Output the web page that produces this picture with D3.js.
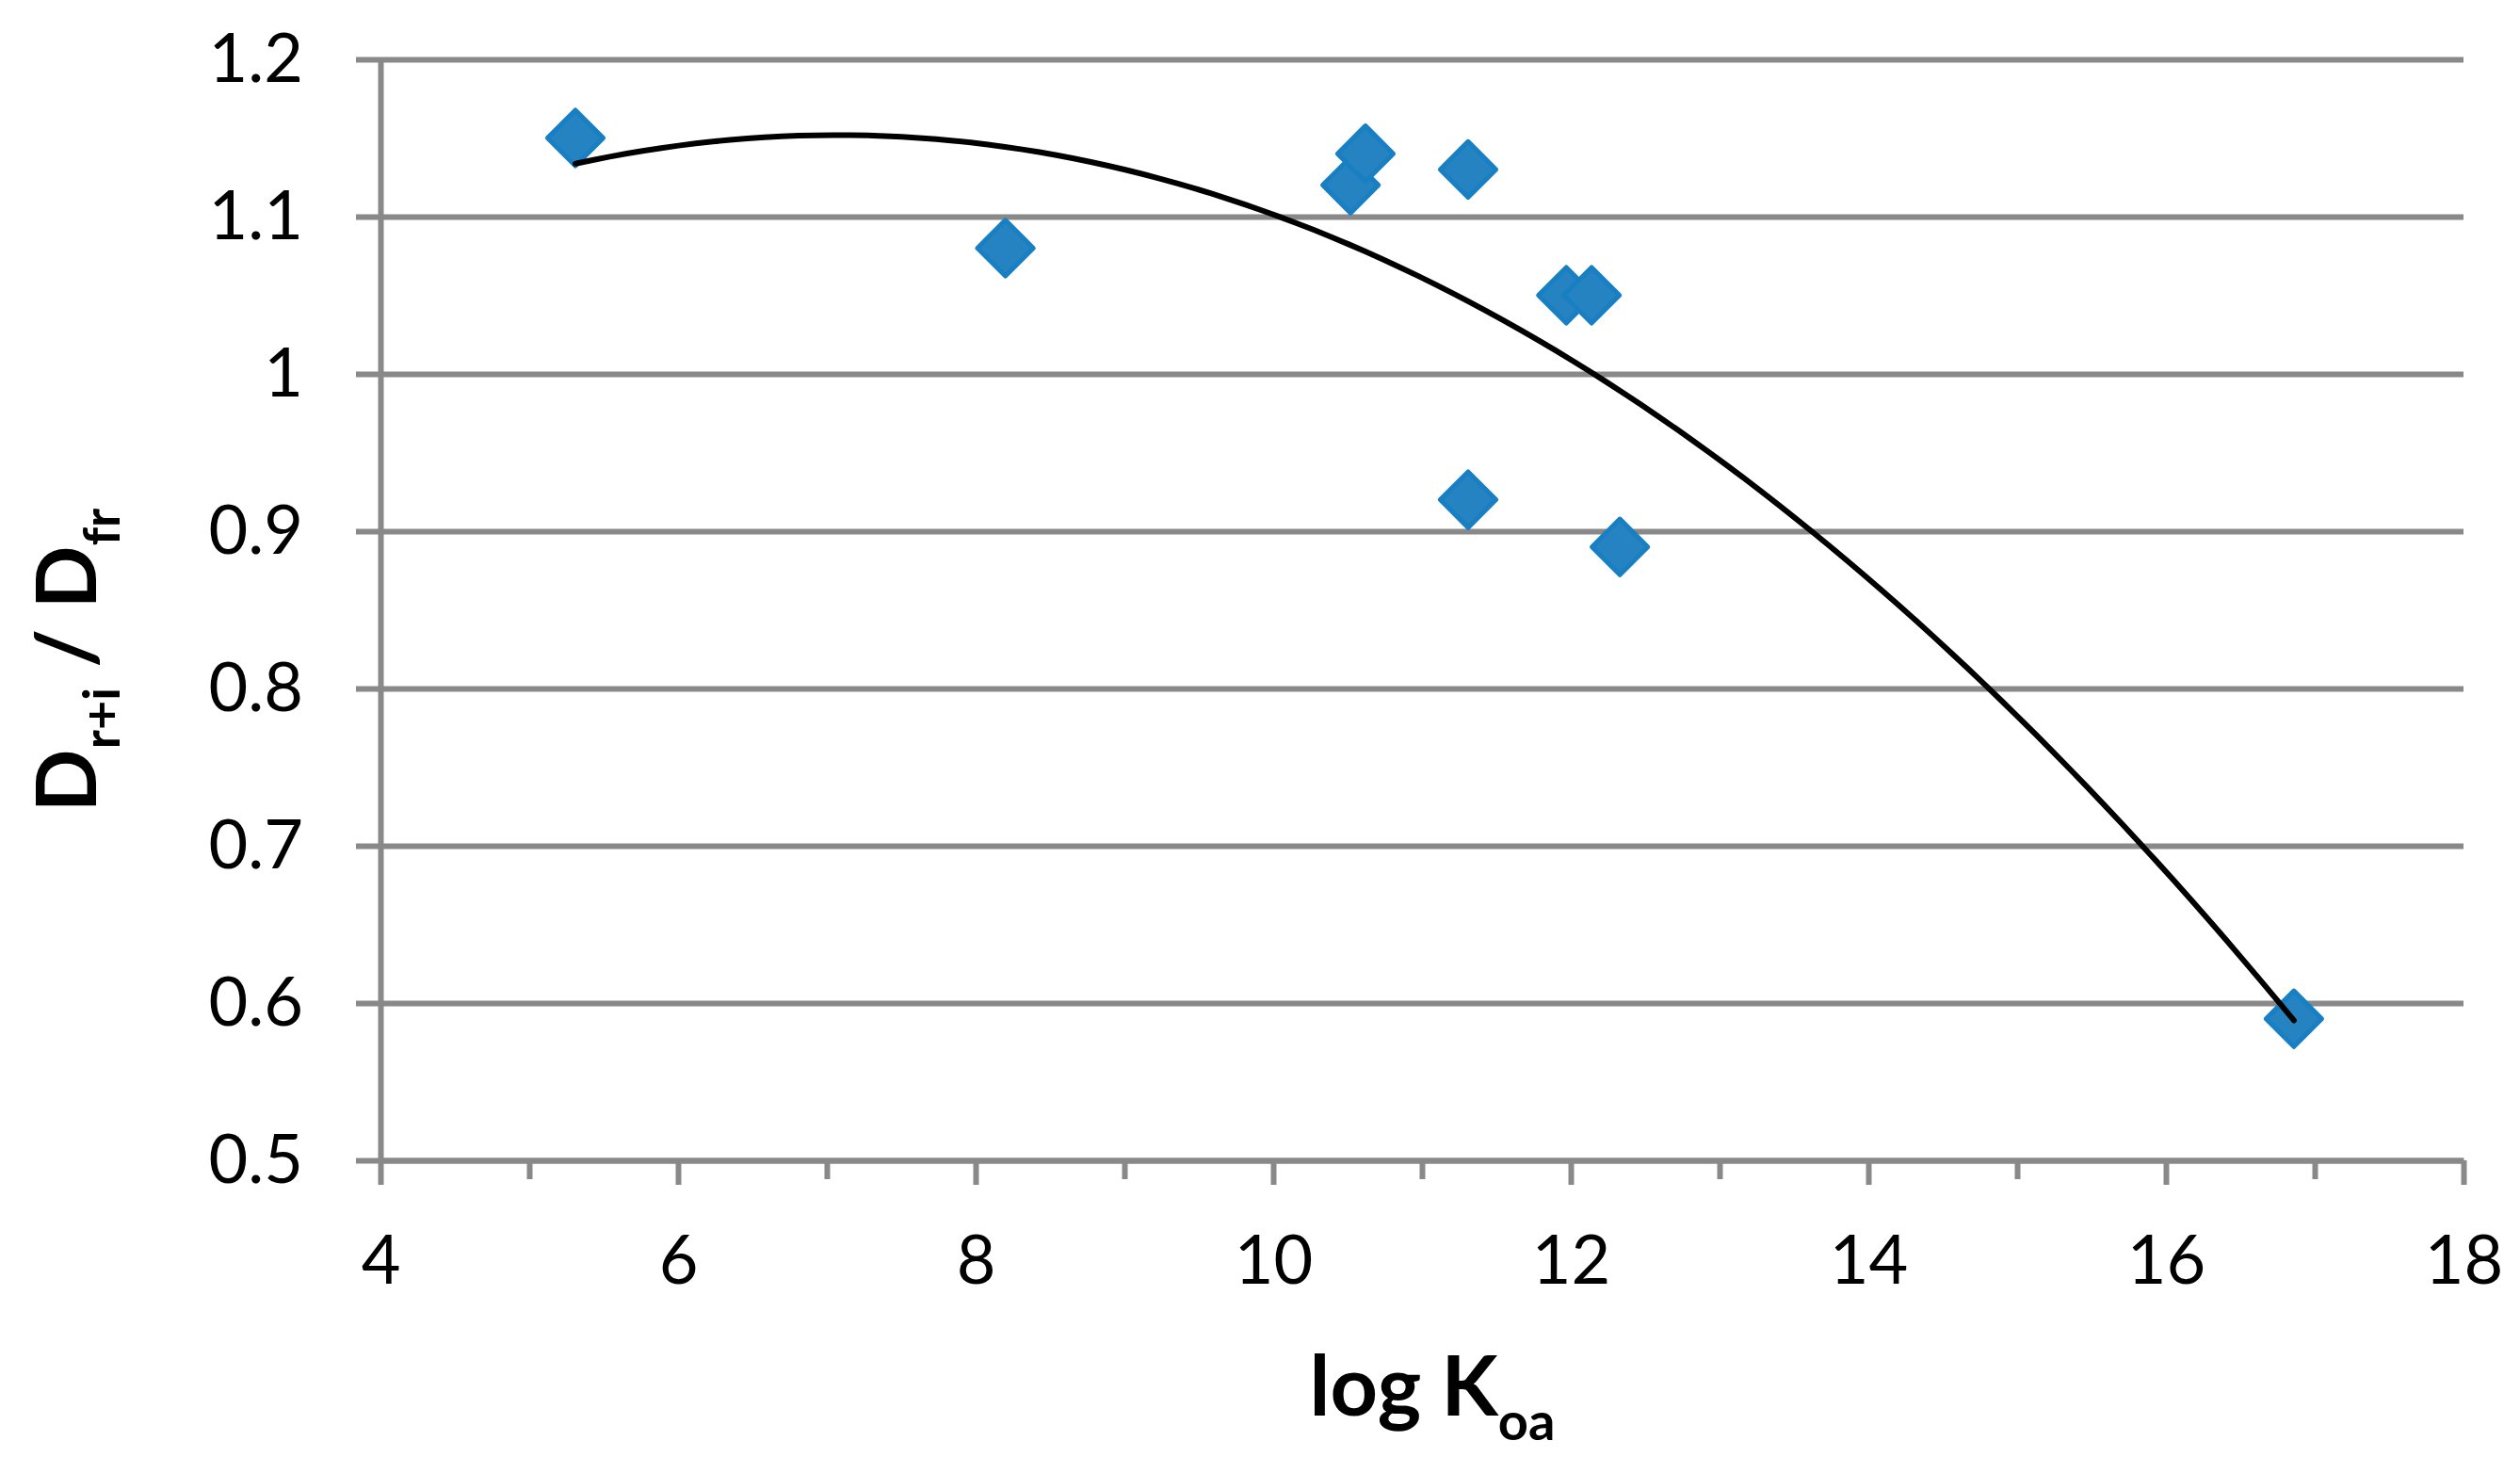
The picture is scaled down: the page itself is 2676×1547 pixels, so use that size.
<!DOCTYPE html>
<html>
<head>
<meta charset="utf-8">
<script src="https://cdn.jsdelivr.net/npm/d3@7"></script>
<style>
    body { margin: 0; background: #fff; }
    text { font-family: Lato, "Open Sans", sans-serif; fill: #000; }
    .axis-title { font-weight: bold; }
</style>
</head>
<body>
<div id="chart-div"></div>
<script>
// values
const logKoa = [5.31, 8.2, 10.52, 10.62, 11.31, 11.31, 11.97, 12.14, 12.33, 16.86];
const ratio = [1.15, 1.08, 1.12, 1.14, 1.13, 0.92, 1.05, 1.05, 0.89, 0.59];
const xTicks = [4, 6, 8, 10, 12, 14, 16, 18];
const xMinorTicks = [5, 7, 9, 11, 13, 15, 17];
const yTicks = [0.5, 0.6, 0.7, 0.8, 0.9, 1.0, 1.1, 1.2];
const yTickLabels = ["0.5", "0.6", "0.7", "0.8", "0.9", "1", "1.1", "1.2"];

const WIDTH = 2676;
const HEIGHT = 1547;
const MARGIN = { left: 404, top: 63, right: 60, bottom: 315 };
const CHART_WIDTH = WIDTH - MARGIN.left - MARGIN.right;
const CHART_HEIGHT = HEIGHT - MARGIN.top - MARGIN.bottom;
const GREY = "#898989";

let points = logKoa.map((x, i) => ({ x: x, y: ratio[i] }));

let svg = d3.select("#chart-div")
    .append("svg")
    .attr("width", WIDTH)
    .attr("height", HEIGHT)
    .append("g")
    .attr("transform", "translate(" + MARGIN.left + "," + MARGIN.top + ")");

let xScale = d3.scaleLinear().domain([4, 18]).range([0, CHART_WIDTH]);
let yScale = d3.scaleLinear().domain([0.5, 1.2]).range([CHART_HEIGHT, 0]);

// horizontal gridlines
svg.append("g")
    .classed("grid", true)
    .call(d3.axisLeft(yScale).tickValues(yTicks).tickSize(-CHART_WIDTH).tickFormat(""))
    .call(g => g.select(".domain").remove())
    .selectAll("line")
    .attr("stroke", GREY)
    .attr("stroke-width", 6);

// y axis
svg.append("g")
    .classed("y-axis", true)
    .call(d3.axisLeft(yScale)
        .tickValues(yTicks)
        .tickSize(26)
        .tickSizeOuter(0)
        .tickPadding(56)
        .tickFormat((d, i) => yTickLabels[i]))
    .call(g => g.select(".domain").attr("stroke", GREY).attr("stroke-width", 6))
    .call(g => g.selectAll("line").attr("stroke", GREY).attr("stroke-width", 6))
    .call(g => g.selectAll("text").style("font-size", "72px").style("font-family", "Lato, sans-serif"));

// x axis, minor ticks first
svg.append("g")
    .attr("transform", "translate(0," + CHART_HEIGHT + ")")
    .call(d3.axisBottom(xScale).tickValues(xMinorTicks).tickSize(20).tickSizeOuter(0).tickFormat(""))
    .call(g => g.select(".domain").remove())
    .selectAll("line")
    .attr("stroke", GREY)
    .attr("stroke-width", 6);

svg.append("g")
    .classed("x-axis", true)
    .attr("transform", "translate(0," + CHART_HEIGHT + ")")
    .call(d3.axisBottom(xScale).tickValues(xTicks).tickSize(26).tickSizeOuter(0).tickPadding(54))
    .call(g => g.select(".domain").attr("stroke", GREY).attr("stroke-width", 6))
    .call(g => g.selectAll("line").attr("stroke", GREY).attr("stroke-width", 6))
    .call(g => g.selectAll("text").style("font-size", "72px").style("font-family", "Lato, sans-serif"));

// diamond markers
svg.append("g")
    .selectAll("path")
    .data(points)
    .enter()
    .append("path")
    .attr("transform", d => "translate(" + xScale(d.x) + "," + yScale(d.y) + ") rotate(45)")
    .attr("d", d3.symbol().type(d3.symbolSquare).size(1750))
    .attr("fill", "#2683c1")
    .attr("stroke", "#187fc3")
    .attr("stroke-width", 5)
    .attr("stroke-linejoin", "round");

// polynomial (order 2) trendline, least squares like Excel does it
function quadFit(xs, ys) {
    let s = [0, 0, 0, 0, 0], t = [0, 0, 0];
    xs.forEach((x, i) => {
        for (let k = 0; k < 5; k++) s[k] += Math.pow(x, k);
        for (let k = 0; k < 3; k++) t[k] += ys[i] * Math.pow(x, k);
    });
    let m = [[s[0], s[1], s[2], t[0]], [s[1], s[2], s[3], t[1]], [s[2], s[3], s[4], t[2]]];
    for (let c = 0; c < 3; c++) {
        for (let r = c + 1; r < 3; r++) {
            let f = m[r][c] / m[c][c];
            for (let k = c; k < 4; k++) m[r][k] -= f * m[c][k];
        }
    }
    let coef = [0, 0, 0];
    for (let r = 2; r >= 0; r--) {
        let v = m[r][3];
        for (let k = r + 1; k < 3; k++) v -= m[r][k] * coef[k];
        coef[r] = v / m[r][r];
    }
    return coef;
}

let coef = quadFit(logKoa, ratio);
let xMin = d3.min(logKoa), xMax = d3.max(logKoa);
let trend = d3.range(0, 101).map(i => {
    let x = xMin + (xMax - xMin) * i / 100;
    return { x: x, y: coef[0] + coef[1] * x + coef[2] * x * x };
});

// trendline sits on top of the markers
svg.append("path")
    .datum(trend)
    .attr("fill", "none")
    .attr("stroke", "#000")
    .attr("stroke-width", 6)
    .attr("stroke-linecap", "round")
    .attr("d", d3.line().x(d => xScale(d.x)).y(d => yScale(d.y)).curve(d3.curveMonotoneX));

// axis titles
svg.append("text")
    .classed("axis-title", true)
    .attr("x", 1521 - MARGIN.left)
    .attr("y", 1503 - MARGIN.top)
    .attr("text-anchor", "middle")
    .style("font-size", "88px")
    .call(t => {
        t.append("tspan").text("log K");
        t.append("tspan").attr("dy", 26).style("font-size", "56px").text("oa");
    });

svg.append("text")
    .classed("axis-title", true)
    .attr("transform", "translate(" + (102 - MARGIN.left) + "," + (701 - MARGIN.top) + ") rotate(-90)")
    .attr("text-anchor", "middle")
    .style("font-size", "88px")
    .call(t => {
        t.append("tspan").text("D");
        t.append("tspan").attr("dy", 25).style("font-size", "54px").text("r+i");
        t.append("tspan").attr("dy", -25).text(" / D");
        t.append("tspan").attr("dy", 25).style("font-size", "54px").text("fr");
    });
</script>
</body>
</html>
